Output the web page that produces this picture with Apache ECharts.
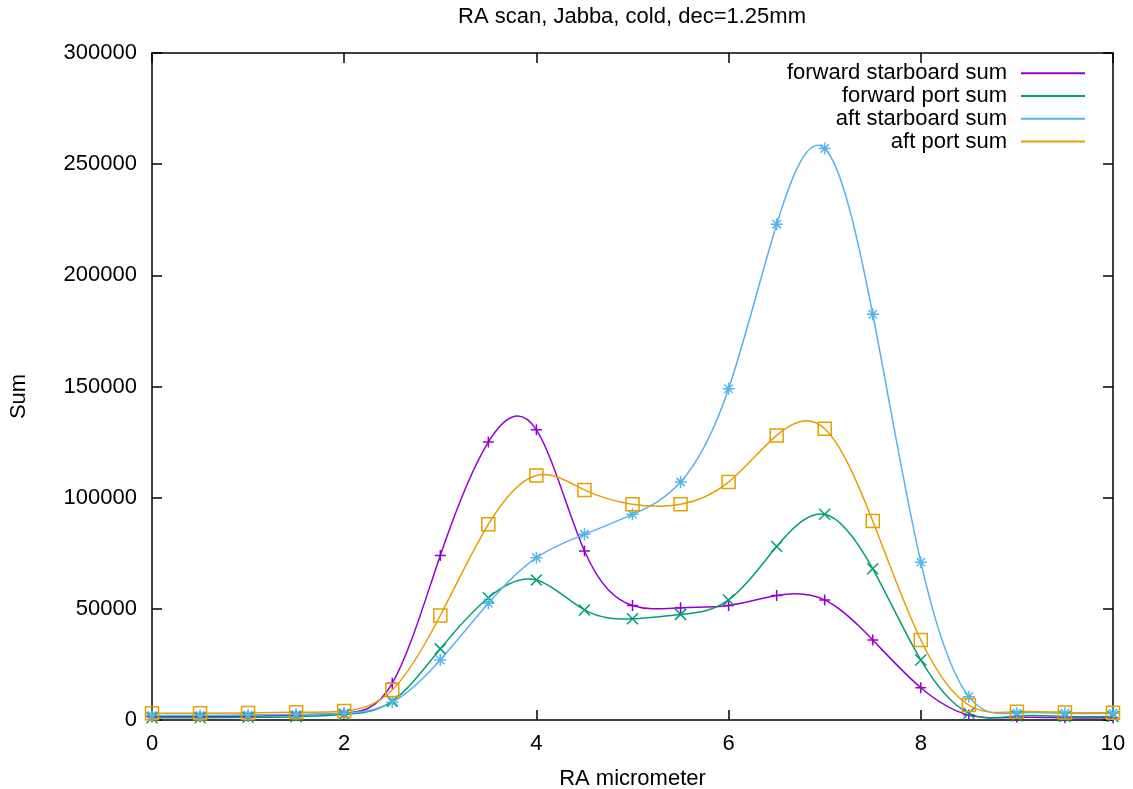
<!DOCTYPE html>
<html>
<head>
<meta charset="utf-8">
<script src="https://cdn.jsdelivr.net/npm/echarts@6/dist/echarts.min.js"></script>
<style>
html,body{margin:0;padding:0;background:#fff;}
#chart{width:1133px;height:789px;}
</style>
</head>
<body>
<div id="chart"></div>
<script>
// ---- data ----
var xValues = [0, 0.5, 1, 1.5, 2, 2.5, 3, 3.5, 4, 4.5, 5, 5.5, 6, 6.5, 7, 7.5, 8, 8.5, 9, 9.5, 10];
var forwardStarboard = [1500, 1500, 1700, 2200, 3000, 16500, 74000, 125000, 130500, 76000, 51500, 50500, 51500, 56000, 54000, 36000, 14500, 2200, 1200, 1000, 1000];
var forwardPort = [1000, 1000, 1200, 1500, 2500, 8500, 32000, 55000, 63000, 49500, 45500, 47500, 54000, 78000, 92500, 68000, 27000, 3000, 1800, 1600, 1600];
var aftStarboard = [2000, 2000, 2200, 2500, 3000, 8000, 27000, 52500, 73000, 83500, 92500, 107000, 149000, 223000, 257000, 182500, 71000, 10500, 3200, 3000, 3000];
var aftPort = [3000, 3000, 3200, 3500, 4000, 13500, 47000, 88000, 110000, 103500, 97000, 97000, 107000, 128000, 131000, 89500, 36000, 6700, 3700, 3400, 3300];
var seriesNames = ['forward starboard sum', 'forward port sum', 'aft starboard sum', 'aft port sum'];
var seriesColors = ['#9400d3', '#009e73', '#56b4e9', '#e69f00'];
var xTicks = {min: 0, max: 10, interval: 2};
var yTicks = {min: 0, max: 300000, interval: 50000};
var titleText = 'RA scan, Jabba, cold, dec=1.25mm';
var xName = 'RA micrometer';
var yName = 'Sum';

var FONT = 'Liberation Sans, Arial, Helvetica, sans-serif';
var symPlus = 'path://M5,0 L5,10 M0,5 L10,5';
var symCross = 'path://M0,0 L10,10 M10,0 L0,10';
var symStar = 'path://M5,0 L5,10 M0,5 L10,5 M1.5,1.5 L8.5,8.5 M8.5,1.5 L1.5,8.5';
var symSquare = 'path://M0,0 L10,0 L10,10 L0,10 Z';
var symbols = [symPlus, symCross, symStar, symSquare];
var symSizes = [11, 11, 12, 13];
var LINE_W = 1.5;

function pairs(ys) { return xValues.map(function (x, i) { return [x, ys[i]]; }); }
var allData = [forwardStarboard, forwardPort, aftStarboard, aftPort];

// natural cubic spline slopes (like gnuplot "smooth csplines"), used only to draw the curve as Bezier segments
function splineSlopes(xs, ys) {
  var n = xs.length, h = [], i, a = [], b = [], c = [], r = [];
  for (i = 0; i < n - 1; i++) h[i] = xs[i + 1] - xs[i];
  for (i = 0; i < n; i++) {
    if (i === 0 || i === n - 1) { a[i] = 0; b[i] = 1; c[i] = 0; r[i] = 0; }
    else {
      a[i] = h[i - 1]; b[i] = 2 * (h[i - 1] + h[i]); c[i] = h[i];
      r[i] = 6 * ((ys[i + 1] - ys[i]) / h[i] - (ys[i] - ys[i - 1]) / h[i - 1]);
    }
  }
  var cp = [], rp = [];
  cp[0] = c[0] / b[0]; rp[0] = r[0] / b[0];
  for (i = 1; i < n; i++) {
    var m = b[i] - a[i] * cp[i - 1];
    cp[i] = c[i] / m; rp[i] = (r[i] - a[i] * rp[i - 1]) / m;
  }
  var M = []; M[n - 1] = rp[n - 1];
  for (i = n - 2; i >= 0; i--) M[i] = rp[i] - cp[i] * M[i + 1];
  var s = [];
  for (i = 0; i < n - 1; i++) s[i] = (ys[i + 1] - ys[i]) / h[i] - h[i] * (2 * M[i] + M[i + 1]) / 6;
  s[n - 1] = (ys[n - 1] - ys[n - 2]) / h[n - 2] + h[n - 2] * (M[n - 2] + 2 * M[n - 1]) / 6;
  return s;
}

function curveSeries(ys, color) {
  return {
    type: 'custom',
    coordinateSystem: 'cartesian2d',
    xAxisIndex: 0, yAxisIndex: 0,
    data: pairs(ys),
    silent: true,
    z: 2,
    renderItem: function (params, api) {
      if (params.dataIndex !== 0) return null;
      var s = splineSlopes(xValues, ys);
      var p0 = api.coord([xValues[0], ys[0]]);
      var d = 'M' + p0[0] + ',' + p0[1];
      for (var i = 0; i < xValues.length - 1; i++) {
        var h = xValues[i + 1] - xValues[i];
        var c1 = api.coord([xValues[i] + h / 3, ys[i] + s[i] * h / 3]);
        var c2 = api.coord([xValues[i + 1] - h / 3, ys[i + 1] - s[i + 1] * h / 3]);
        var p = api.coord([xValues[i + 1], ys[i + 1]]);
        d += ' C' + c1[0] + ',' + c1[1] + ' ' + c2[0] + ',' + c2[1] + ' ' + p[0] + ',' + p[1];
      }
      var cs = params.coordSys;
      return {
        type: 'group',
        clipPath: {type: 'rect', shape: {x: cs.x, y: cs.y, width: cs.width, height: cs.height}},
        children: [{
          type: 'path',
          shape: {pathData: d},
          style: {fill: 'none', stroke: color, lineWidth: LINE_W}
        }]
      };
    }
  };
}

var series = [];
allData.forEach(function (d, i) { series.push(curveSeries(d, seriesColors[i])); });
allData.forEach(function (d, i) {
  series.push({
    name: seriesNames[i],
    type: 'line',
    data: pairs(d),
    color: seriesColors[i],
    symbol: symbols[i],
    symbolSize: symSizes[i],
    showAllSymbol: true,
    z: 3,
    lineStyle: {width: 0, opacity: 0},
    itemStyle: {color: 'rgba(0,0,0,0)', borderColor: seriesColors[i], borderWidth: LINE_W},
    emphasis: {disabled: true},
    xAxisIndex: 0, yAxisIndex: 0
  });
});

var axisLine = {show: true, onZero: false, lineStyle: {color: '#000', width: 1.5}};
var axisTick = {show: true, inside: true, length: 10, lineStyle: {color: '#000', width: 1.5}};

var chart = echarts.init(document.getElementById('chart'), null, {renderer: 'canvas'});
chart.setOption({
  animation: false,
  backgroundColor: '#fff',
  title: {
    text: titleText, left: 632, top: 6, textAlign: 'center', padding: 0,
    textStyle: {fontFamily: FONT, fontSize: 22, fontWeight: 'normal', color: '#000'}
  },
  legend: {
    orient: 'vertical', right: 48, top: 62, align: 'right',
    icon: 'rect', itemWidth: 64, itemHeight: 2, itemGap: 0,
    padding: 0,
    data: seriesNames.map(function (n, i) { return {name: n, itemStyle: {color: seriesColors[i], borderWidth: 0, opacity: 1}}; }),
    textStyle: {fontFamily: FONT, fontSize: 22, color: '#000', padding: [0, 9, 0, 0], lineHeight: 22.7}
  },
  grid: {left: 152, right: 20, top: 53, bottom: 69, containLabel: false, outerBoundsMode: 'none'},
  xAxis: [{
    type: 'value', min: xTicks.min, max: xTicks.max, interval: xTicks.interval,
    position: 'bottom',
    name: xName, nameLocation: 'middle', nameGap: 48,
    nameTextStyle: {fontFamily: FONT, fontSize: 22, color: '#000'},
    axisLine: axisLine, axisTick: axisTick, splitLine: {show: false},
    axisLabel: {fontFamily: FONT, fontSize: 22, color: '#000', margin: 13}
  }, {
    type: 'value', min: xTicks.min, max: xTicks.max, interval: xTicks.interval,
    position: 'top', axisLine: axisLine, axisTick: axisTick, splitLine: {show: false},
    axisLabel: {show: false}
  }],
  yAxis: [{
    type: 'value', min: yTicks.min, max: yTicks.max, interval: yTicks.interval,
    position: 'left',
    name: yName, nameLocation: 'middle', nameGap: 122,
    nameTextStyle: {fontFamily: FONT, fontSize: 22, color: '#000', padding: [0, 20, 0, 0]},
    axisLine: axisLine, axisTick: axisTick, splitLine: {show: false},
    axisLabel: {fontFamily: FONT, fontSize: 22, color: '#000', margin: 15,
      formatter: function (v) { return String(v); }}
  }, {
    type: 'value', min: yTicks.min, max: yTicks.max, interval: yTicks.interval,
    position: 'right', axisLine: axisLine, axisTick: axisTick, splitLine: {show: false},
    axisLabel: {show: false}
  }],
  series: series
});
</script>
</body>
</html>
